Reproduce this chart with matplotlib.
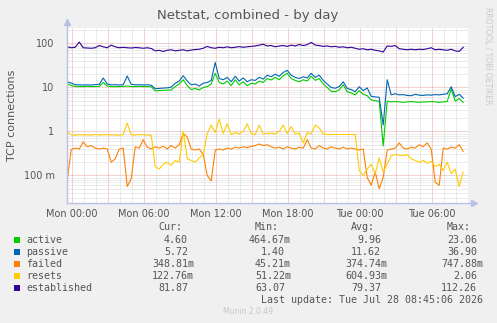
import numpy as np
import matplotlib
matplotlib.use("Agg")
import matplotlib.pyplot as plt
from matplotlib.ticker import FixedLocator, FixedFormatter, NullFormatter

W, H = 497, 323

# sample times in hours since Mon 00:00, one reading every 20 minutes
hours = np.arange(100) / 3.0 - 0.4

active = [
    12.4, 11.0, 10.6, 10.5, 10.5, 10.6, 10.5, 10.5, 10.6, 13.0,
    10.8, 10.5, 10.5, 10.5, 10.6, 10.8, 10.5, 10.5, 10.6, 10.5,
    10.5, 10.4, 8.4, 8.5, 8.6, 8.7, 8.8, 10.5, 12.0, 15.0,
    11.0, 9.0, 9.5, 8.8, 10.0, 10.5, 12.0, 21.0, 13.0, 12.0,
    14.0, 11.0, 15.0, 11.5, 13.5, 11.0, 12.5, 12.0, 14.0, 13.0,
    16.0, 14.8, 17.0, 15.0, 18.5, 21.0, 16.0, 14.5, 13.5, 15.0,
    14.0, 18.0, 14.5, 16.0, 12.0, 10.0, 8.2, 8.0, 8.8, 11.5,
    8.0, 7.5, 6.8, 8.5, 7.0, 6.5, 5.2, 5.0, 4.9, 0.47,
    4.9, 4.7, 4.8, 4.7, 4.6, 4.7, 4.8, 4.7, 4.6, 4.7,
    4.7, 4.8, 4.7, 4.6, 4.7, 4.8, 9.3, 4.9, 5.6, 4.6,
]
passive = [
    13.5, 12.6, 11.6, 11.5, 11.4, 11.5, 11.4, 11.6, 11.8, 16.4,
    12.0, 11.5, 11.6, 11.4, 11.6, 18.2, 11.8, 11.5, 11.6, 11.4,
    11.5, 11.3, 9.4, 9.5, 9.7, 9.8, 10.2, 12.5, 14.0, 18.5,
    14.0, 11.5, 12.0, 10.8, 12.5, 13.0, 14.5, 37.0, 16.0, 15.0,
    17.0, 13.5, 18.0, 14.0, 16.5, 13.5, 15.0, 14.5, 17.0, 15.5,
    19.0, 17.5, 20.0, 18.0, 22.0, 24.5, 19.0, 17.0, 16.0, 17.5,
    16.5, 21.0, 17.0, 19.0, 14.5, 12.0, 10.0, 9.6, 10.5, 13.5,
    9.5, 9.0, 8.0, 10.4, 8.5, 9.8, 6.3, 6.1, 6.0, 1.4,
    15.0, 6.8, 7.2, 6.8, 6.9, 6.6, 6.5, 7.0, 6.7, 6.6,
    6.8, 6.7, 6.9, 6.8, 7.0, 7.2, 10.4, 6.2, 7.0, 5.7,
]
failed = [
    0.079, 0.39, 0.42, 0.40, 0.58, 0.45, 0.48, 0.42, 0.40, 0.42,
    0.40, 0.20, 0.24, 0.40, 0.42, 0.056, 0.085, 0.45, 0.42, 0.65,
    0.44, 0.40, 0.45, 0.42, 0.46, 0.40, 0.48, 0.42, 0.50, 0.90,
    0.75, 0.40, 0.38, 0.40, 0.30, 0.10, 0.075, 0.38, 0.40, 0.38,
    0.42, 0.40, 0.44, 0.42, 0.45, 0.43, 0.46, 0.48, 0.52, 0.48,
    0.50, 0.45, 0.42, 0.44, 0.40, 0.45, 0.42, 0.40, 0.44, 0.42,
    0.65, 0.42, 0.40, 0.48, 0.42, 0.40, 0.45, 0.42, 0.40, 0.44,
    0.40, 0.42, 0.40, 0.38, 0.40, 0.09, 0.06, 0.12, 0.05, 0.09,
    0.38, 0.40, 0.42, 0.55, 0.42, 0.40, 0.44, 0.42, 0.50, 0.45,
    0.55, 0.40, 0.07, 0.06, 0.42, 0.40, 0.44, 0.42, 0.50, 0.35,
]
resets = [
    1.0, 0.84, 0.82, 0.85, 0.83, 0.84, 0.82, 0.86, 0.83, 0.84,
    0.85, 0.83, 0.84, 0.82, 0.85, 1.55, 0.84, 0.83, 0.85, 0.84,
    0.83, 0.82, 0.16, 0.14, 0.18, 0.20, 0.17, 0.22, 0.20, 1.0,
    0.24, 0.22, 0.20, 0.25, 0.30, 0.90, 1.4, 0.95, 1.9, 0.9,
    1.5, 0.85, 0.95, 0.88, 1.0, 1.5, 0.9, 0.85, 1.4, 0.88,
    0.90, 0.92, 0.88, 1.0, 1.4, 0.9, 1.3, 0.88, 0.92, 0.55,
    0.95, 0.88, 1.4, 1.2, 0.88, 0.86, 0.85, 0.86, 0.85, 0.86,
    0.85, 0.86, 0.85, 0.13, 0.10, 0.14, 0.18, 0.11, 0.25, 0.12,
    0.18, 0.28, 0.30, 0.29, 0.28, 0.30, 0.24, 0.22, 0.20, 0.22,
    0.19, 0.21, 0.16, 0.18, 0.13, 0.20, 0.11, 0.14, 0.056, 0.12,
]
established = [
    84, 80, 82, 108, 80, 79, 78, 80, 90, 84,
    80, 92, 84, 80, 82, 80, 79, 81, 80, 78,
    80, 77, 68, 70, 66, 70, 72, 68, 70, 72,
    68, 71, 73, 74, 78, 86, 80, 78, 82, 80,
    84, 80, 82, 85, 82, 84, 86, 88, 92, 96,
    88, 90, 84, 88, 90, 86, 92, 88, 95, 90,
    94, 106, 92, 90, 86, 88, 84, 86, 82, 84,
    80, 82, 78, 74, 76, 72, 74, 70, 68, 64,
    88, 86, 90, 76, 74, 72, 74, 72, 74, 73,
    76, 80, 72, 74, 72, 70, 74, 68, 66, 82,
]

names = ["active", "passive", "failed", "resets", "established"]
colors = ["#00CC00", "#0066B3", "#FF8000", "#FFCC00", "#330099"]
cur = ["4.60", "5.72", "348.81m", "122.76m", "81.87"]
vmin = ["464.67m", "1.40", "45.21m", "51.22m", "63.07"]
avg = ["9.96", "11.62", "374.74m", "604.93m", "79.37"]
vmax = ["23.06", "36.90", "747.88m", "2.06", "112.26"]

xtick_hours = [0, 6, 12, 18, 24, 30]
xtick_labels = ["Mon 00:00", "Mon 06:00", "Mon 12:00", "Mon 18:00", "Tue 00:00", "Tue 06:00"]
ytick_values = [0.1, 1, 10, 100]
ytick_labels = ["100 m", "1", "10", "100"]

bg = "#F0F0F0"
txt = "#555555"
axis_col = "#B8C0E4"


def px(x, y):
    return x / W, 1 - y / H


fig = plt.figure(figsize=(W / 100, H / 100), dpi=100, facecolor=bg)
ax = fig.add_axes([67 / W, (H - 203) / H, 401 / W, 175 / H])
ax.set_facecolor("white")

for s, c in zip([active, passive, failed, resets, established], colors):
    ax.plot(hours, s, color=c, lw=0.8, zorder=3)

ax.set_yscale("log")
ax.set_ylim(0.0237, 225)
ax.set_xlim(-0.42, 33.0)

ax.xaxis.set_major_locator(FixedLocator(np.arange(0, 33, 3)))
ax.xaxis.set_minor_locator(FixedLocator(np.arange(0, 33, 1)))
major_x = [xtick_labels[xtick_hours.index(h)] if h in xtick_hours else "" for h in range(0, 33, 3)]
ax.xaxis.set_major_formatter(FixedFormatter(major_x))
ax.yaxis.set_major_locator(FixedLocator(ytick_values))
ax.yaxis.set_major_formatter(FixedFormatter(ytick_labels))
minor_y = [m * 10.0 ** e for e in range(-2, 3) for m in range(2, 10)]
ax.yaxis.set_minor_locator(FixedLocator(minor_y))
ax.yaxis.set_minor_formatter(NullFormatter())

dot = (0, (1, 1))
ax.grid(which="minor", color="#D8D8D8", lw=0.72, linestyle=dot, zorder=1)
ax.grid(which="major", color="#E8A4A4", lw=0.72, linestyle=dot, zorder=2)
ax.tick_params(which="both", length=0, colors=txt, labelsize=7)
ax.tick_params(axis="x", pad=4)
ax.tick_params(axis="y", pad=9)
for sp in ax.spines.values():
    sp.set_visible(False)

# axis lines with arrow heads, like rrdtool
ax.plot([0, 0], [0, 1 + 6 / 175], color=axis_col, lw=1, transform=ax.transAxes, clip_on=False, zorder=4)
ax.plot([0], [1 + 6 / 175], marker="^", ms=4, color=axis_col, transform=ax.transAxes, clip_on=False)
ax.plot([0, 1 + 6 / 401], [0, 0], color=axis_col, lw=1, transform=ax.transAxes, clip_on=False, zorder=4)
ax.plot([1 + 6 / 401], [0], marker=">", ms=4, color=axis_col, transform=ax.transAxes, clip_on=False)

fig.text(*px(248, 16), "Netstat, combined - by day", ha="center", va="center", fontsize=9.5, color=txt)
fig.text(*px(12, 115), "TCP connections", ha="center", va="center", rotation=90, fontsize=8, color=txt)
fig.text(*px(488, 56), "RRDTOOL / TOBI OETIKER", ha="center", va="center", rotation=270,
         fontsize=5.5, color="#C8C8C8")

# legend table
mono = dict(family="DejaVu Sans Mono", fontsize=7.2, color=txt, va="center")
cw = 6.0
col_end = [194, 291, 387, 483]
for head, xe in zip(["Cur:", "Min:", "Avg:", "Max:"], col_end):
    fig.text(*px(xe - 2 * cw, 227.5), head, ha="right", **mono)

rows_y = [240, 252, 264, 276, 288]
for i, name in enumerate(names):
    y = rows_y[i]
    fig.patches.append(plt.Rectangle(px(14, y + 3), 6 / W, 6 / H, transform=fig.transFigure,
                                     facecolor=colors[i], edgecolor="none"))
    fig.text(*px(26.5, y), name, ha="left", **mono)
    for val, xe in zip([cur[i], vmin[i], avg[i], vmax[i]], col_end):
        if val.endswith("m"):
            fig.text(*px(xe, y), val, ha="right", **mono)
        else:
            fig.text(*px(xe - cw, y), val, ha="right", **mono)

fig.text(*px(483, 300), "Last update: Tue Jul 28 08:45:06 2026", ha="right", **mono)
fig.text(*px(248, 312), "Munin 2.0.49", ha="center", va="center", fontsize=5.5, color="#C8C8C8")

fig.savefig("out.png", dpi=100, facecolor=bg)
